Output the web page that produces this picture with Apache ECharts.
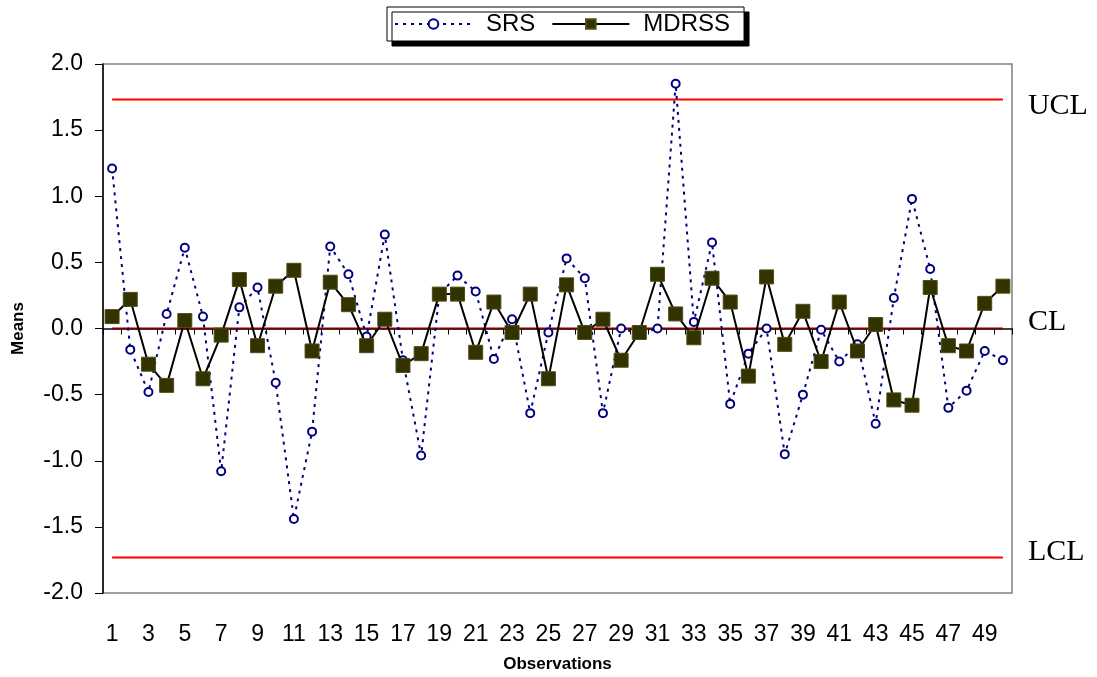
<!DOCTYPE html>
<html>
<head>
<meta charset="utf-8">
<script src="https://cdn.jsdelivr.net/npm/echarts@6/dist/echarts.min.js"></script>
<style>
html,body{margin:0;padding:0;background:#fff;}
#chart{width:1097px;height:677px;}
</style>
</head>
<body>
<div id="chart"></div>
<script>
const categories = Array.from({length: 50}, (_, i) => String(i + 1));
const srs = [1.21,-0.16,-0.48,0.11,0.61,0.09,-1.08,0.16,0.31,-0.41,
             -1.44,-0.78,0.62,0.41,-0.06,0.71,-0.24,-0.96,0.26,0.40,
             0.28,-0.23,0.07,-0.64,-0.03,0.53,0.38,-0.64,0.00,-0.04,
             0.00,1.85,0.05,0.65,-0.57,-0.19,0.00,-0.95,-0.50,-0.01,
             -0.25,-0.12,-0.72,0.23,0.98,0.45,-0.60,-0.47,-0.17,-0.24];
const mdrss = [0.09,0.22,-0.27,-0.43,0.06,-0.38,-0.05,0.37,-0.13,0.32,
               0.44,-0.17,0.35,0.18,-0.13,0.07,-0.28,-0.19,0.26,0.26,
               -0.18,0.20,-0.03,0.26,-0.38,0.33,-0.03,0.07,-0.24,-0.03,
               0.41,0.11,-0.07,0.38,0.20,-0.36,0.39,-0.12,0.13,-0.25,
               0.20,-0.17,0.03,-0.54,-0.58,0.31,-0.13,-0.17,0.19,0.32];
const UCL = 1.732, CL = 0, LCL = -1.732;
const yTicks = {min: -2, max: 2, interval: 0.5};

const constLine = v => categories.map(() => v);
const ctlLabel = (txt, dy) => ({
  show: true, formatter: txt, distance: 25, offset: [0, dy],
  fontFamily: 'Liberation Serif', fontSize: 30, color: '#000'
});

const chart = echarts.init(document.getElementById('chart'));
chart.setOption({
  animation: false,
  backgroundColor: '#fff',
  textStyle: {fontFamily: 'Liberation Sans'},
  grid: {left: 103, right: 85, top: 64, bottom: 84, show: true,
         outerBoundsMode: 'none', containLabel: false,
         borderColor: '#808080', borderWidth: 1.5, backgroundColor: 'transparent'},
  legend: {
    data: ['SRS', 'MDRSS'],
    left: 387, top: 7,
    padding: [5, 14, 5, 7],
    itemWidth: 77, itemHeight: 12, itemGap: 16,
    backgroundColor: '#fff', borderColor: '#000', borderWidth: 1,
    shadowColor: '#000', shadowBlur: 0, shadowOffsetX: 5, shadowOffsetY: 5,
    textStyle: {fontSize: 24, color: '#000', fontFamily: 'Liberation Sans', padding: [0, 0, 0, 9]}
  },
  xAxis: {
    type: 'category', data: categories, boundaryGap: true,
    name: 'Observations', nameLocation: 'middle', nameGap: 63,
    nameTextStyle: {fontSize: 17, fontWeight: 'bold', color: '#000'},
    axisLine: {lineStyle: {color: '#000', width: 1.5}},
    axisTick: {show: true, interval: 0, length: 6, lineStyle: {color: '#000'}},
    axisLabel: {interval: 1, fontSize: 23, color: '#000', margin: 30},
    splitLine: {show: false}
  },
  yAxis: {
    type: 'value', min: yTicks.min, max: yTicks.max, interval: yTicks.interval,
    name: 'Means', nameLocation: 'middle', nameGap: 76, nameRotate: 90,
    nameTextStyle: {fontSize: 17, fontWeight: 'bold', color: '#000'},
    axisLine: {show: true, lineStyle: {color: '#000', width: 1.5}},
    axisTick: {show: true, length: 8, lineStyle: {color: '#000'}},
    axisLabel: {fontSize: 23, color: '#000', margin: 20,
                formatter: v => v.toFixed(1)},
    splitLine: {show: false}
  },
  series: [
    {name: 'UCLline', type: 'line', data: constLine(UCL), symbol: 'none', z: 1,
     lineStyle: {color: '#ff0000', width: 2}, silent: true,
     endLabel: ctlLabel('UCL', 7)},
    {name: 'CLline', type: 'line', data: constLine(CL), symbol: 'none', z: 1,
     lineStyle: {color: '#800000', width: 2}, silent: true,
     endLabel: ctlLabel('CL', -6)},
    {name: 'LCLline', type: 'line', data: constLine(LCL), symbol: 'none', z: 1,
     lineStyle: {color: '#ff0000', width: 2}, silent: true,
     endLabel: ctlLabel('LCL', -5)},
    {name: 'SRS', type: 'line', data: srs, z: 2, showAllSymbol: true,
     symbol: 'circle', symbolSize: 8,
     itemStyle: {color: '#fff', borderColor: '#000080', borderWidth: 2},
     lineStyle: {color: '#000080', width: 2, type: [3, 5]}},
    {name: 'MDRSS', type: 'line', data: mdrss, z: 3, showAllSymbol: true,
     symbol: 'rect', symbolSize: 14,
     itemStyle: {color: '#333300', borderColor: '#4d4d1a', borderWidth: 1},
     lineStyle: {color: '#000', width: 2}}
  ]
});
</script>
</body>
</html>
